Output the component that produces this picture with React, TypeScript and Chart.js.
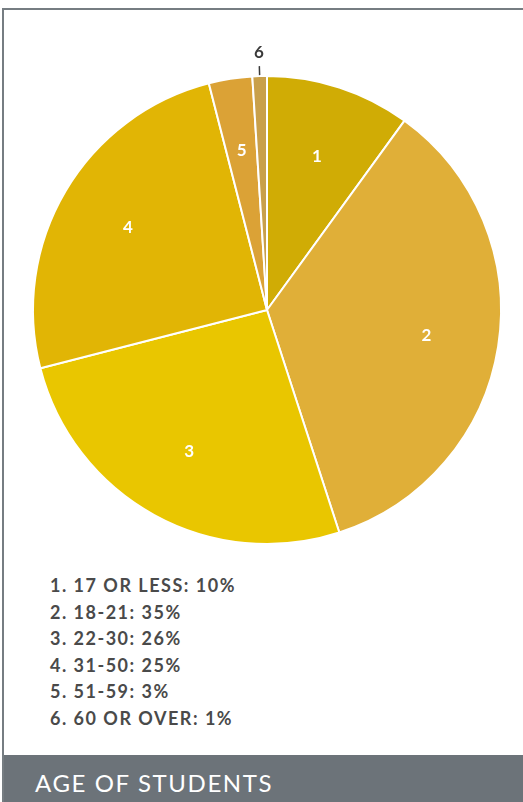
import React, { useEffect, useRef } from "react";
import { Chart, registerables } from "chart.js";

Chart.register(...registerables);

const categories = ["17 OR LESS", "18-21", "22-30", "31-50", "51-59", "60 OR OVER"];
const shares = [10, 35, 26, 25, 3, 1];
const sliceColors = ["#D0AC05", "#E0AF38", "#E9C600", "#E1B505", "#DBA236", "#C9A04A"];
const title = "AGE OF STUDENTS";

const FONT = "Lato, 'Noto Sans', sans-serif";

const labelPlugin = {
  id: "sliceLabels",
  afterDatasetsDraw(chart: any) {
    const ctx = chart.ctx;
    const meta = chart.getDatasetMeta(0);
    ctx.save();
    ctx.textAlign = "center";
    ctx.textBaseline = "middle";
    meta.data.forEach((arc: any, i: number) => {
      const { x, y, startAngle, endAngle, outerRadius } = arc.getProps(
        ["x", "y", "startAngle", "endAngle", "outerRadius"],
        true
      );
      const mid = (startAngle + endAngle) / 2;
      const small = shares[i] < 2;
      if (!small) {
        const r = outerRadius * 0.69;
        ctx.fillStyle = "#ffffff";
        ctx.font = `bold 17px ${FONT}`;
        ctx.fillText(String(i + 1), x + Math.cos(mid) * r, y + Math.sin(mid) * r);
      } else {
        ctx.strokeStyle = "#3a3a3a";
        ctx.lineWidth = 1.5;
        ctx.beginPath();
        ctx.moveTo(x + Math.cos(mid) * (outerRadius + 1), y + Math.sin(mid) * (outerRadius + 1));
        ctx.lineTo(x + Math.cos(mid) * (outerRadius + 10), y + Math.sin(mid) * (outerRadius + 10));
        ctx.stroke();
        const r = outerRadius + 24;
        ctx.fillStyle = "#3a3a3a";
        ctx.font = `bold 17px ${FONT}`;
        ctx.fillText(String(i + 1), x + Math.cos(mid) * r, y + Math.sin(mid) * r);
      }
    });
    ctx.restore();
  },
};

function PieChart() {
  const ref = useRef<HTMLCanvasElement | null>(null);
  useEffect(() => {
    if (!ref.current) return;
    const chart = new Chart(ref.current, {
      type: "pie",
      data: {
        labels: categories,
        datasets: [
          {
            data: shares,
            backgroundColor: sliceColors,
            borderColor: "#ffffff",
            borderWidth: 2,
          },
        ],
      },
      options: {
        responsive: false,
        animation: false,
        layout: { padding: { left: 32, right: 21, top: 75, bottom: 15 } },
        plugins: {
          legend: { display: false },
          tooltip: { enabled: false },
        },
      },
      plugins: [labelPlugin],
    });
    return () => chart.destroy();
  }, []);
  return (
    <canvas
      ref={ref}
      width={523}
      height={560}
      style={{ position: "absolute", left: 0, top: 0, width: 523, height: 560 }}
    />
  );
}

export default function App() {
  return (
    <div
      style={{
        position: "absolute",
        left: 0,
        top: 0,
        width: 523,
        height: 802,
        overflow: "hidden",
        background: "#ffffff",
        fontFamily: FONT,
      }}
    >
      <div
        style={{
          position: "absolute",
          left: 2,
          top: 8,
          width: 540,
          height: 800,
          borderLeft: "2px solid #767d82",
          borderTop: "2px solid #767d82",
          boxSizing: "border-box",
        }}
      />
      <PieChart />
      <div style={{ position: "absolute", left: 50, top: 572, color: "#4a4a4a" }}>
        {categories.map((c, i) => (
          <div
            key={c}
            style={{ fontSize: 18, fontWeight: 700, lineHeight: "26.5px", whiteSpace: "nowrap", letterSpacing: 1.5 }}
          >
            {`${i + 1}. ${c}: ${shares[i]}%`}
          </div>
        ))}
      </div>
      <div
        style={{
          position: "absolute",
          left: 4,
          top: 755,
          width: 519,
          height: 47,
          background: "#6c7379",
        }}
      >
        <div
          style={{
            position: "absolute",
            left: 31,
            top: 14,
            color: "#ffffff",
            fontSize: 24,
            lineHeight: "28px",
            letterSpacing: 1.6,
            whiteSpace: "nowrap",
          }}
        >
          {title}
        </div>
      </div>
    </div>
  );
}
